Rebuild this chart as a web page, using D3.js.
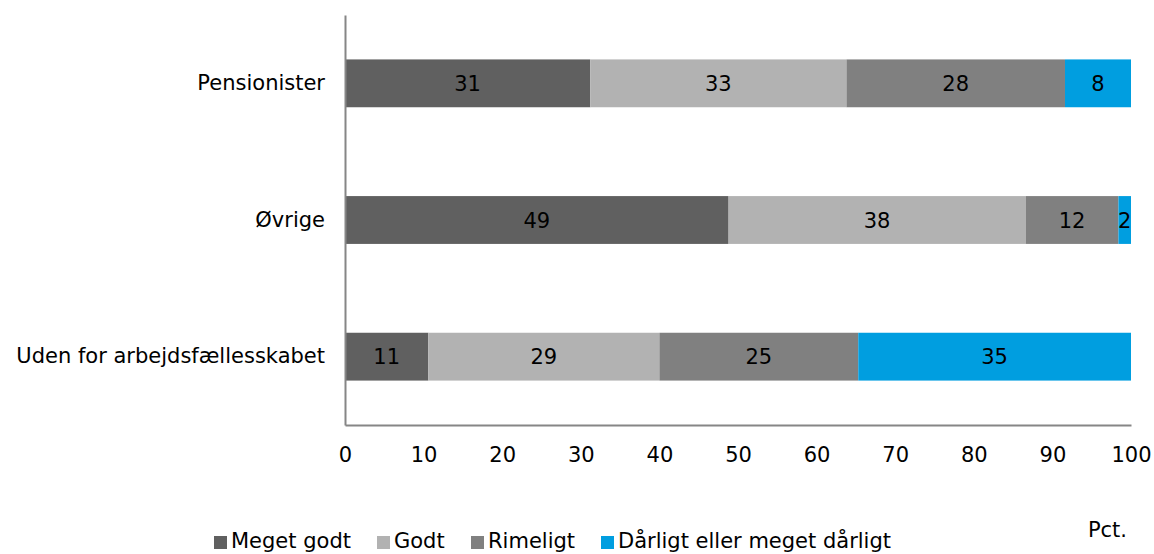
<!DOCTYPE html>
<html>
<head>
<meta charset="utf-8">
<script src="https://cdn.jsdelivr.net/npm/d3@7"></script>
<style>
  html, body { margin: 0; padding: 0; background: #fff; }
  svg { display: block; font-family: "DejaVu Sans", Verdana, sans-serif; }
</style>
</head>
<body>
<svg id="chart" width="1154" height="554"></svg>
<script>
// ---- data ----
const categories = ["Pensionister", "Øvrige", "Uden for arbejdsfællesskabet"];
const seriesNames = ["Meget godt", "Godt", "Rimeligt", "Dårligt eller meget dårligt"];
const megetGodt = [31.2, 48.8, 10.6];
const godt      = [32.6, 37.8, 29.4];
const rimeligt  = [27.8, 11.8, 25.3];
const daarligt  = [8.4, 1.6, 34.7];
const xTicks = [0, 10, 20, 30, 40, 50, 60, 70, 80, 90, 100];
const unitLabel = "Pct.";
const colors = ["#606060", "#b2b2b2", "#808080", "#009ee0"];

// ---- layout ----
const svg = d3.select("#chart");
const plotLeft = 345, plotRight = 1131, plotTop = 15, plotBottom = 425;
const fontSize = 21;
const ff = "DejaVu Sans, Verdana, sans-serif";

const x = d3.scaleLinear().domain([0, 100]).range([plotLeft, plotRight]);
const y = d3.scaleBand().domain(categories).range([plotTop, plotBottom]).paddingInner(0.65).paddingOuter(0.325);

const table = categories.map((c, i) => ({
  cat: c,
  "Meget godt": megetGodt[i],
  "Godt": godt[i],
  "Rimeligt": rimeligt[i],
  "Dårligt eller meget dårligt": daarligt[i]
}));
const stacked = d3.stack().keys(seriesNames)(table);

const layers = svg.append("g").selectAll("g").data(stacked).join("g")
  .attr("fill", (d, i) => colors[i]);

layers.selectAll("rect").data(d => d).join("rect")
  .attr("x", d => x(d[0]))
  .attr("y", d => y(d.data.cat))
  .attr("width", d => x(d[1]) - x(d[0]))
  .attr("height", y.bandwidth());

layers.selectAll("text").data(d => d.map(v => ({ v, key: d.key }))).join("text")
  .attr("x", d => (x(d.v[0]) + x(d.v[1])) / 2)
  .attr("y", d => y(d.v.data.cat) + y.bandwidth() / 2)
  .attr("dy", "0.36em")
  .attr("text-anchor", "middle")
  .attr("fill", "#000")
  .attr("font-size", fontSize)
  .attr("font-family", ff)
  .text(d => Math.round(d.v.data[d.key]));

// axes
const xAxis = svg.append("g").attr("transform", `translate(0,${plotBottom})`)
  .call(d3.axisBottom(x).tickValues(xTicks).tickSize(0).tickPadding(22));
xAxis.select(".domain").attr("stroke", "#868686").attr("stroke-width", 2);
xAxis.selectAll("text").attr("font-size", fontSize).attr("font-family", ff).attr("fill", "#000");

const yAxis = svg.append("g").attr("transform", `translate(${plotLeft},0)`)
  .call(d3.axisLeft(y).tickSize(0).tickPadding(20));
yAxis.select(".domain").attr("stroke", "#868686").attr("stroke-width", 2);
yAxis.selectAll("text").attr("font-size", fontSize).attr("font-family", ff).attr("fill", "#000");

// legend
const legendX = [214, 377, 471, 601];
const legend = svg.append("g").selectAll("g").data(seriesNames).join("g")
  .attr("transform", (d, i) => `translate(${legendX[i]},536)`);
legend.append("rect").attr("width", 13).attr("height", 13).attr("fill", (d, i) => colors[i]);
legend.append("text").attr("x", 17).attr("y", 12)
  .attr("font-size", fontSize).attr("font-family", ff).attr("fill", "#000").text(d => d);

svg.append("text").attr("x", 1127).attr("y", 537).attr("text-anchor", "end")
  .attr("font-size", fontSize).attr("font-family", ff).attr("fill", "#000").text(unitLabel);
</script>
</body>
</html>
